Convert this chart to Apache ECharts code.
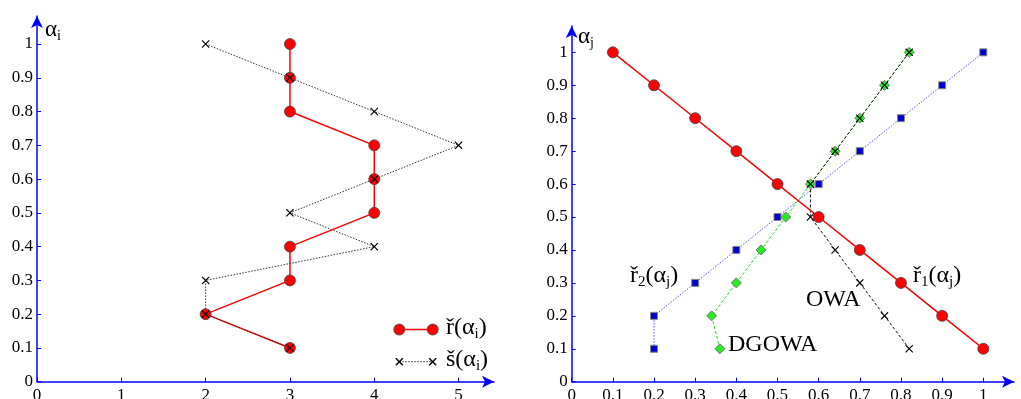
<!DOCTYPE html>
<html>
<head>
<meta charset="utf-8">
<script src="https://cdn.jsdelivr.net/npm/echarts@6/dist/echarts.min.js"></script>
<style>
html,body{margin:0;padding:0;background:#fff;}
#c{width:1021px;height:399px;}
</style>
</head>
<body>
<div id="c"></div>
<script>
// ---- data (left panel) ----
const alphaI = [1, 0.9, 0.8, 0.7, 0.6, 0.5, 0.4, 0.3, 0.2, 0.1];
const rI = [3, 3, 3, 4, 4, 4, 3, 3, 2, 3];
const sI = [2, 3, 4, 5, 4, 3, 4, 2, 2, 3];
const leftXTicks = [0, 1, 2, 3, 4, 5];
const leftYTicks = [0, 0.1, 0.2, 0.3, 0.4, 0.5, 0.6, 0.7, 0.8, 0.9, 1];

// ---- data (right panel) ----
const alphaJ = [1, 0.9, 0.8, 0.7, 0.6, 0.5, 0.4, 0.3, 0.2, 0.1];
const r1J = [0.1, 0.2, 0.3, 0.4, 0.5, 0.6, 0.7, 0.8, 0.9, 1.0];
const r2J = [1.0, 0.9, 0.8, 0.7, 0.6, 0.5, 0.4, 0.3, 0.2, 0.2];
const dgowaJ = [0.82, 0.76, 0.70, 0.64, 0.58, 0.52, 0.46, 0.40, 0.34, 0.36];
const owaJ = [0.82, 0.76, 0.70, 0.64, 0.58, 0.58, 0.64, 0.70, 0.76, 0.82];
const rightXTicks = [0, 0.1, 0.2, 0.3, 0.4, 0.5, 0.6, 0.7, 0.8, 0.9, 1];
const rightYTicks = [0, 0.1, 0.2, 0.3, 0.4, 0.5, 0.6, 0.7, 0.8, 0.9, 1];

const pair = (xs, ys) => xs.map((x, i) => [x, ys[i]]);

const FONT = 'Liberation Serif';
const FONT2 = "'Liberation Serif', serif";
const BLUE = '#0000ff';
const CROSS = 'path://M1,0L5,4L9,0L10,1L6,5L10,9L9,10L5,6L1,10L0,9L4,5L0,1Z';
const fmt = v => String(+(+v).toFixed(2));

function axis(gi, min, max, ticks) {
  return {
    type: 'value', gridIndex: gi, min: min, max: max,
    axisLine: { show: true, onZero: false, symbol: ['none', 'arrow'], symbolSize: [9, 12],
      lineStyle: { color: BLUE, width: 1.5 } },
    axisTick: { show: true, inside: true, length: 4, customValues: ticks,
      lineStyle: { color: BLUE, width: 1 } },
    axisLabel: { show: false },
    splitLine: { show: false }
  };
}

const mainTok = { fontFamily: FONT, fontSize: 24, color: '#111', lineHeight: 26, verticalAlign: 'top' };
const subTok = { fontFamily: FONT, fontSize: 15, color: '#111', lineHeight: 16, verticalAlign: 'top', padding: [11, 0, 0, 0] };
function label(x, y, text, size) {
  const m = Object.assign({}, mainTok), s = Object.assign({}, subTok);
  if (size) { m.fontSize = size; s.fontSize = Math.round(size * 0.62); }
  return { type: 'text', x: x, y: y, z: 100,
    style: { text: text, rich: { m: m, s: s } } };
}
function cross(cx, cy, h) {
  return [
    { type: 'line', z: 101, shape: { x1: cx - h, y1: cy - h, x2: cx + h, y2: cy + h }, style: { stroke: '#000', lineWidth: 1.4 } },
    { type: 'line', z: 101, shape: { x1: cx - h, y1: cy + h, x2: cx + h, y2: cy - h }, style: { stroke: '#000', lineWidth: 1.4 } }
  ];
}

const baseGraphic = [
  // axis names
  label(45, 18, '{m|α}{s|i}', 23),
  label(578, 25, '{m|α}{s|j}', 23),
  // legend (left)
  { type: 'line', shape: { x1: 399.3, y1: 329.5, x2: 432.7, y2: 329.5 }, z: 100,
    style: { stroke: '#ff0000', lineWidth: 1.5 } },
  { type: 'circle', shape: { cx: 399.3, cy: 329.5, r: 5.5 }, z: 101,
    style: { fill: '#ff0000', stroke: '#444', lineWidth: 0.8 } },
  { type: 'circle', shape: { cx: 432.7, cy: 329.5, r: 5.5 }, z: 101,
    style: { fill: '#ff0000', stroke: '#444', lineWidth: 0.8 } },
  label(446, 316, '{m|ř(α}{s|i}{m|)}'),
  { type: 'line', shape: { x1: 399.3, y1: 361.7, x2: 432.7, y2: 361.7 }, z: 100,
    style: { stroke: '#333', lineWidth: 1, lineDash: [1.5, 1.5] } }
].concat(cross(399.3, 361.7, 3.5), cross(432.7, 361.7, 3.5), [
  label(446, 348, '{m|š(α}{s|i}{m|)}'),
  // right panel annotations
  label(630, 264, '{m|ř}{s|2}{m|(α}{s|j}{m|)}'),
  label(913, 264, '{m|ř}{s|1}{m|(α}{s|j}{m|)}'),
  label(806, 288, '{m|OWA}'),
  label(728, 333, '{m|DGOWA}')
]);

const option = {
  backgroundColor: '#fff',
  animation: false,
  grid: [
    { left: 37, top: 16, width: 457, height: 365.7, containLabel: false },
    { left: 571.7, top: 26, width: 442.3, height: 355.7, containLabel: false }
  ],
  xAxis: [
    axis(0, 0, 5.42, leftXTicks),
    axis(1, 0, 1.0746, rightXTicks)
  ],
  yAxis: [
    axis(0, 0, 1.083, leftYTicks),
    axis(1, 0, 1.08, rightYTicks)
  ],
  series: [
    { name: 'r', type: 'line', xAxisIndex: 0, yAxisIndex: 0, data: pair(rI, alphaI),
      symbol: 'circle', symbolSize: 11,
      lineStyle: { color: '#ff0000', width: 1.5 },
      itemStyle: { color: '#ff0000', borderColor: '#444', borderWidth: 0.8 } },
    { name: 's', type: 'line', xAxisIndex: 0, yAxisIndex: 0, data: pair(sI, alphaI),
      symbol: CROSS, symbolSize: 8,
      lineStyle: { color: '#333', width: 1, type: [1.5, 1.5] },
      itemStyle: { color: '#000' } },

    { name: 'r2', type: 'line', xAxisIndex: 1, yAxisIndex: 1, data: pair(r2J, alphaJ),
      symbol: 'rect', symbolSize: 7,
      lineStyle: { color: '#5555ff', width: 1, type: [1.5, 1.5] },
      itemStyle: { color: '#0000cc', borderColor: '#888', borderWidth: 1 } },
    { name: 'DGOWA', type: 'line', xAxisIndex: 1, yAxisIndex: 1, data: pair(dgowaJ, alphaJ),
      symbol: 'diamond', symbolSize: 10,
      lineStyle: { color: '#22dd22', width: 1, type: [3, 2] },
      itemStyle: { color: '#22ee22', borderColor: '#777', borderWidth: 1 } },
    { name: 'OWA', type: 'line', xAxisIndex: 1, yAxisIndex: 1, data: pair(owaJ, alphaJ),
      symbol: CROSS, symbolSize: 8,
      lineStyle: { color: '#111', width: 1, type: [3, 2] },
      itemStyle: { color: '#000' } },
    { name: 'r1', type: 'line', xAxisIndex: 1, yAxisIndex: 1, data: pair(r1J, alphaJ),
      symbol: 'circle', symbolSize: 11,
      lineStyle: { color: '#ff0000', width: 1.5 },
      itemStyle: { color: '#ff0000', borderColor: '#444', borderWidth: 0.8 } }
  ],
  graphic: baseGraphic
};

const chart = echarts.init(document.getElementById('c'), null, { renderer: 'canvas' });
chart.setOption(option);

// tick labels placed through the axes' own scales (rich text, alternating font specs)
let tickCount = 0;
function tickText(x, y, text, align, vAlign) {
  const key = (tickCount++ % 2) ? 'a' : 'b';
  return { type: 'text', x: x, y: y, z: 100,
    style: { text: '{' + key + '|' + text + '}',
      rich: {
        a: { fontFamily: FONT, fontSize: 17, color: '#1a1a1a' },
        b: { fontFamily: FONT2, fontSize: 17, color: '#1a1a1a' }
      },
      align: align, textAlign: align, verticalAlign: vAlign, textVerticalAlign: vAlign } };
}
const tickLabels = [];
[[0, leftXTicks, leftYTicks], [1, rightXTicks, rightYTicks]].forEach(([gi, xt, yt]) => {
  xt.forEach(v => {
    const p = chart.convertToPixel({ gridIndex: gi }, [v, 0]);
    tickLabels.push(tickText(p[0], p[1] + 5, fmt(v), 'center', 'top'));
  });
  yt.forEach(v => {
    const p = chart.convertToPixel({ gridIndex: gi }, [0, v]);
    tickLabels.push(tickText(p[0] - 4, p[1], fmt(v), 'right', 'middle'));
  });
});
chart.setOption({ graphic: baseGraphic.concat(tickLabels) });
</script>
</body>
</html>
